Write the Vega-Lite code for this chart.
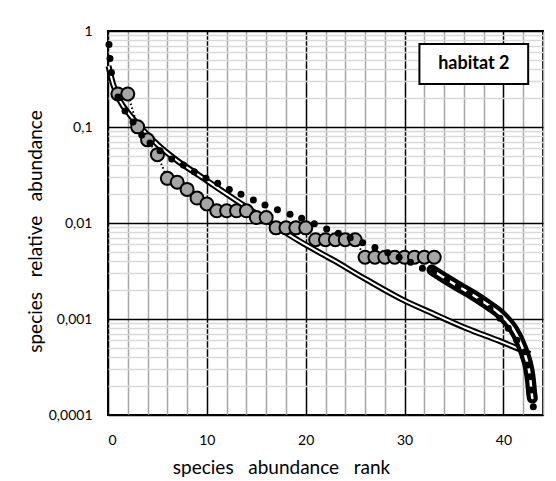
{
  "$schema": "https://vega.github.io/schema/vega-lite/v6.json",
  "autosize": {"type": "none"},
  "padding": {"left": 108, "top": 31, "right": 13, "bottom": 66},
  "width": 435,
  "height": 384,
  "background": "white",
  "config": {
    "view": {"stroke": "black", "strokeWidth": 2},
    "font": "Lato",
    "axis": {"labelFont": "Lato", "titleFont": "Lato", "labelColor": "black", "titleColor": "black", "titleFontWeight": "normal"}
  },
  "datasets": {
    "circles": [
      {"rank": 1, "value": 0.221}, {"rank": 2, "value": 0.221}, {"rank": 3, "value": 0.1004},
      {"rank": 4, "value": 0.0735}, {"rank": 5, "value": 0.0515}, {"rank": 6, "value": 0.0292},
      {"rank": 7, "value": 0.0266}, {"rank": 8, "value": 0.0224}, {"rank": 9, "value": 0.0182},
      {"rank": 10, "value": 0.0158}, {"rank": 11, "value": 0.0134}, {"rank": 12, "value": 0.0134},
      {"rank": 13, "value": 0.0134}, {"rank": 14, "value": 0.0134}, {"rank": 15, "value": 0.0114},
      {"rank": 16, "value": 0.0114}, {"rank": 17, "value": 0.0089}, {"rank": 18, "value": 0.0089},
      {"rank": 19, "value": 0.0089}, {"rank": 20, "value": 0.0089}, {"rank": 21, "value": 0.0067},
      {"rank": 22, "value": 0.0067}, {"rank": 23, "value": 0.0067}, {"rank": 24, "value": 0.0067},
      {"rank": 25, "value": 0.0067}, {"rank": 26, "value": 0.0044}, {"rank": 27, "value": 0.0044},
      {"rank": 28, "value": 0.0044}, {"rank": 29, "value": 0.0044}, {"rank": 30, "value": 0.0044},
      {"rank": 31, "value": 0.0044}, {"rank": 32, "value": 0.0044}, {"rank": 33, "value": 0.0044}
    ],
    "doubleLine": [
      {"rank": 0.05, "value": 0.432}, {"rank": 0.51, "value": 0.28}, {"rank": 1.21, "value": 0.187},
      {"rank": 2.23, "value": 0.133}, {"rank": 3.54, "value": 0.093}, {"rank": 5.06, "value": 0.0649},
      {"rank": 6.98, "value": 0.0448}, {"rank": 9.31, "value": 0.0309}, {"rank": 11.33, "value": 0.0223},
      {"rank": 13.35, "value": 0.0162}, {"rank": 15.37, "value": 0.0118}, {"rank": 17.4, "value": 0.00866},
      {"rank": 19.42, "value": 0.00642}, {"rank": 22.76, "value": 0.00412}, {"rank": 26.2, "value": 0.00255},
      {"rank": 29.84, "value": 0.00158}, {"rank": 32.87, "value": 0.00114}, {"rank": 36.31, "value": 0.000796},
      {"rank": 39.65, "value": 0.000588}, {"rank": 41.37, "value": 0.000497}, {"rank": 42.69, "value": 0.000432}
    ],
    "thickCurve": [
      {"rank": 32.77, "value": 0.00324}, {"rank": 34.19, "value": 0.00261}, {"rank": 35.61, "value": 0.00213},
      {"rank": 36.92, "value": 0.00178}, {"rank": 38.31, "value": 0.00143}, {"rank": 39.65, "value": 0.00113},
      {"rank": 40.36, "value": 0.000953}, {"rank": 41.02, "value": 0.000778}, {"rank": 41.68, "value": 0.000575},
      {"rank": 42.18, "value": 0.000422}, {"rank": 42.54, "value": 0.000309}, {"rank": 42.74, "value": 0.000226},
      {"rank": 42.84, "value": 0.000174}, {"rank": 42.92, "value": 0.00015}
    ],
    "dots": [
      {"rank": 0.1, "value": 0.723}, {"rank": 0.2, "value": 0.517}, {"rank": 0.35, "value": 0.37},
      {"rank": 1.01, "value": 0.205}, {"rank": 1.72, "value": 0.147}, {"rank": 2.53, "value": 0.113},
      {"rank": 3.41, "value": 0.0825}, {"rank": 4.25, "value": 0.0683}, {"rank": 5.26, "value": 0.0567},
      {"rank": 6.44, "value": 0.0464}, {"rank": 7.62, "value": 0.0402}, {"rank": 8.73, "value": 0.0342},
      {"rank": 9.91, "value": 0.0292}, {"rank": 11.1, "value": 0.0259}, {"rank": 12.27, "value": 0.0224},
      {"rank": 13.45, "value": 0.0199}, {"rank": 14.7, "value": 0.0174}, {"rank": 15.88, "value": 0.0154},
      {"rank": 17.14, "value": 0.0137}, {"rank": 18.41, "value": 0.0123}, {"rank": 19.59, "value": 0.0112},
      {"rank": 20.87, "value": 0.0098}, {"rank": 22.12, "value": 0.00866}, {"rank": 23.3, "value": 0.00781},
      {"rank": 24.5, "value": 0.007}, {"rank": 25.76, "value": 0.00623}, {"rank": 27.0, "value": 0.00556},
      {"rank": 28.3, "value": 0.0049}, {"rank": 29.45, "value": 0.0044}, {"rank": 30.6, "value": 0.0039},
      {"rank": 31.8, "value": 0.00337}, {"rank": 32.95, "value": 0.0031}, {"rank": 34.26, "value": 0.00255},
      {"rank": 35.43, "value": 0.00221}, {"rank": 36.55, "value": 0.00185}, {"rank": 37.63, "value": 0.00155},
      {"rank": 38.64, "value": 0.00129}, {"rank": 39.65, "value": 0.00102}, {"rank": 40.49, "value": 0.0008},
      {"rank": 41.34, "value": 0.0006}, {"rank": 42.18, "value": 0.000457}, {"rank": 42.48, "value": 0.000332},
      {"rank": 42.69, "value": 0.00025}, {"rank": 42.79, "value": 0.000182}, {"rank": 43.02, "value": 0.000122}
    ],
    "labelBox": [
      {"rank": 31.5, "rank2": 42.5, "value": 0.73, "value2": 0.28, "label": "habitat 2", "mid": 37.0, "midValue": 0.452}
    ]
  },
  "encoding": {
    "x": {
      "field": "rank", "type": "quantitative",
      "scale": {"domain": [0, 44], "nice": false, "zero": false},
      "axis": {
        "values": [0, 2, 4, 6, 8, 10, 12, 14, 16, 18, 20, 22, 24, 26, 28, 30, 32, 34, 36, 38, 40, 42, 44],
        "labelExpr": "datum.value % 10 == 0 ? datum.label : ''",
        "ticks": false, "domain": false,
        "grid": true,
        "gridColor": {"condition": {"test": "datum.value % 10 == 0", "value": "black"}, "value": "#a6a6a6"},
        "gridWidth": 1.5,
        "gridOpacity": 1,
        "labelFontSize": 14, "labelPadding": 18,
        "title": "species\u00a0\u00a0 abundance\u00a0\u00a0 rank",
        "titleFontSize": 19, "titleX": 173, "titleY": 43, "titleBaseline": "top", "titleAlign": "center", "titleAnchor": null
      }
    },
    "y": {
      "field": "value", "type": "quantitative",
      "scale": {"type": "log", "domain": [0.0001, 1], "nice": false},
      "axis": {
        "values": [0.0001, 0.0002, 0.0003, 0.0004, 0.0005, 0.0006, 0.0007, 0.0008, 0.0009,
                   0.001, 0.002, 0.003, 0.004, 0.005, 0.006, 0.007, 0.008, 0.009,
                   0.01, 0.02, 0.03, 0.04, 0.05, 0.06, 0.07, 0.08, 0.09,
                   0.1, 0.2, 0.3, 0.4, 0.5, 0.6, 0.7, 0.8, 0.9, 1],
        "labelExpr": "datum.value == 1 ? '1' : datum.value == 0.1 ? '0,1' : datum.value == 0.01 ? '0,01' : datum.value == 0.001 ? '0,001' : datum.value == 0.0001 ? '0,0001' : ''",
        "ticks": false, "domain": false,
        "grid": true,
        "gridColor": {"condition": {"test": "datum.value == 1 || datum.value == 0.1 || datum.value == 0.01 || datum.value == 0.001 || datum.value == 0.0001", "value": "black"}, "value": "#d9d9d9"},
        "gridWidth": 1.5,
        "gridOpacity": 1,
        "labelFontSize": 14, "labelPadding": 16,
        "title": "species\u00a0\u00a0 relative\u00a0\u00a0 abundance",
        "titleFontSize": 19, "titleX": -73, "titleY": 200, "titleAlign": "center", "titleBaseline": "middle", "titleAngle": -90, "titleAnchor": null
      }
    }
  },
  "layer": [
    {"data": {"name": "doubleLine"}, "mark": {"type": "line", "color": "black", "strokeWidth": 6, "interpolate": "monotone"}},
    {"data": {"name": "doubleLine"}, "mark": {"type": "line", "color": "white", "strokeWidth": 2, "interpolate": "monotone"}},
    {"data": {"name": "circles"}, "mark": {"type": "line", "color": "black", "strokeWidth": 2, "strokeDash": [1.5, 2.5]}},
    {"data": {"name": "circles"}, "mark": {"type": "point", "shape": "circle", "filled": true, "fill": "#a6a6a6", "stroke": "black", "strokeWidth": 2, "size": 169, "opacity": 1}},
    {"data": {"name": "thickCurve"}, "mark": {"type": "line", "color": "black", "strokeWidth": 11, "strokeCap": "round", "interpolate": "monotone"}},
    {"data": {"name": "thickCurve"}, "mark": {"type": "line", "color": "white", "strokeWidth": 2.5, "strokeCap": "round", "interpolate": "monotone"}},
    {"data": {"name": "dots"}, "mark": {"type": "point", "shape": "circle", "filled": true, "color": "black", "size": 49, "opacity": 1}},
    {"data": {"name": "labelBox"}, "mark": {"type": "rect", "fill": "white", "stroke": "black", "strokeWidth": 2},
     "encoding": {"x": {"field": "rank", "type": "quantitative"}, "x2": {"field": "rank2"}, "y": {"field": "value", "type": "quantitative"}, "y2": {"field": "value2"}}},
    {"data": {"name": "labelBox"}, "mark": {"type": "text", "fontSize": 18, "fontWeight": "bold", "font": "Lato", "color": "black", "align": "center", "baseline": "middle"},
     "encoding": {"x": {"field": "mid", "type": "quantitative"}, "y": {"field": "midValue", "type": "quantitative"}, "text": {"field": "label"}}}
  ]
}
